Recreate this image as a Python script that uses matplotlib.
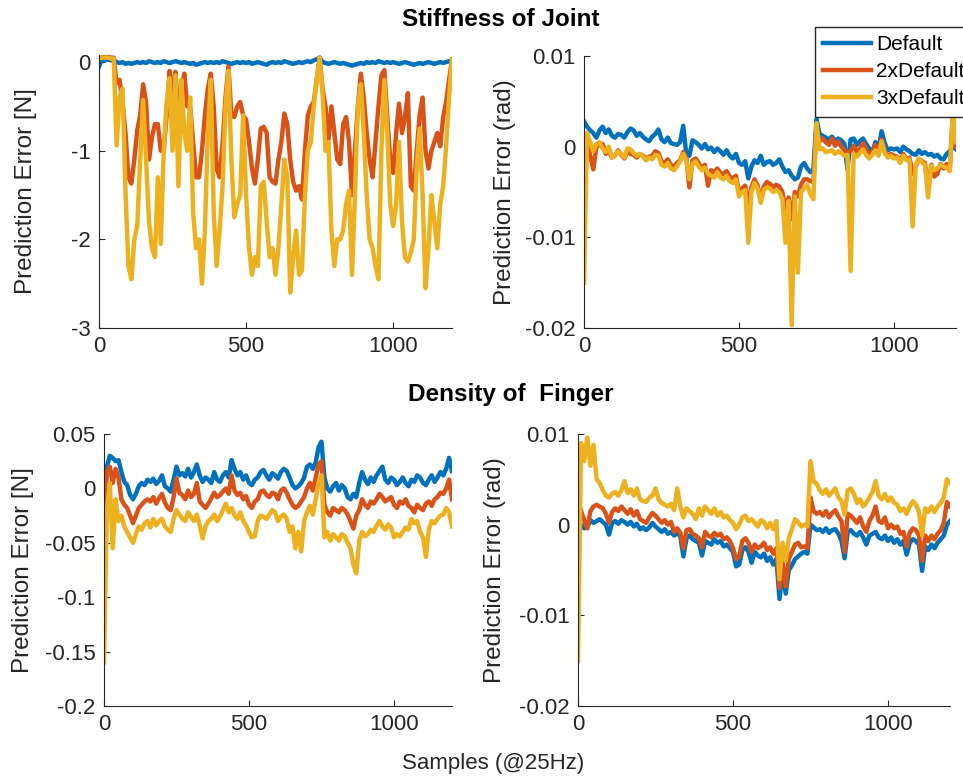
import numpy as np
import matplotlib
matplotlib.use('Agg')
import matplotlib.pyplot as plt

plt.rcParams['font.family'] = ['Liberation Sans', 'DejaVu Sans']
plt.rcParams['axes.unicode_minus'] = False

# sample index (every 10 samples)
samples = np.arange(0, 1201, 10)
series_names = ['Default', '2xDefault', '3xDefault']
colors = ['#0072BD', '#D95319', '#EDB120']

# ---- Stiffness of Joint, force error [N]
stiff_force_default = [
    -0.05, 0.03, 0.02, 0.03, 0.02, 0.02, 0.0, -0.01, 0.0, -0.02,
    -0.01, -0.02, -0.01, 0.0, -0.01, 0.0, -0.01, 0.01, 0.0, -0.01,
    0.0, -0.01, 0.01, 0.0, -0.01, 0.0, 0.01, 0.0, -0.01, 0.0,
    -0.01, -0.02, -0.01, -0.03, -0.02, -0.01, 0.0, -0.01, 0.0, -0.01,
    0.0, -0.01, 0.01, 0.0, -0.01, -0.02, -0.01, 0.0, -0.01, 0.0,
    -0.01, 0.0, -0.02, -0.01, 0.0, -0.01, -0.02, -0.03, -0.01, 0.0,
    -0.01, 0.0, -0.01, 0.01, 0.0, -0.01, -0.02, -0.01, 0.0, -0.01,
    0.0, 0.01, 0.0, 0.02, 0.03, 0.05, 0.0, -0.01, -0.02, -0.01,
    0.0, -0.01, -0.02, -0.01, -0.02, -0.03, -0.04, -0.03, -0.02, -0.01,
    -0.02, 0.0, -0.01, 0.0, -0.01, 0.01, 0.0, -0.01, 0.0, -0.01,
    0.0, -0.01, -0.02, -0.01, 0.0, -0.01, -0.02, -0.03, -0.02, -0.01,
    -0.02, -0.01, 0.0, -0.01, -0.02, -0.01, 0.0, -0.01, 0.0, 0.01,
    0.01]
stiff_force_2x = [
    0.05, 0.05, 0.06, 0.06, 0.05, 0.05, -0.24, -0.2, -0.45, -0.8,
    -1.3, -1.37, -1.1, -0.77, -0.6, -0.25, -0.45, -1.1, -0.85, -0.7,
    -0.7, -1.0, -1.0, -0.6, -0.1, -0.35, -0.11, -0.6, -0.3, -0.13,
    -0.5, -0.5, -0.9, -1.3, -1.3, -1.0, -0.6, -0.3, -0.13, -0.5,
    -1.2, -1.3, -0.92, -0.4, -0.05, -0.6, -0.62, -0.5, -0.45, -0.6,
    -0.65, -0.9, -1.2, -1.37, -1.1, -0.75, -0.73, -0.8, -1.3, -1.35,
    -1.37, -1.1, -0.9, -0.58, -0.7, -1.1, -1.35, -1.45, -1.4, -1.55,
    -1.0, -0.6, -0.5, -0.45, -0.2, 0.05, -0.3, -0.5, -0.88, -0.5,
    -0.8, -1.1, -1.15, -0.7, -0.62, -0.9, -1.5, -1.0, -0.5, -0.13,
    -0.4, -0.8, -1.1, -1.3, -0.9, -0.5, -0.15, -0.09, -0.62, -1.1,
    -1.25, -0.8, -0.47, -0.8, -0.62, -0.35, -1.4, -1.45, -1.0, -0.6,
    -0.4, -1.0, -1.2, -1.0, -0.9, -0.8, -0.95, -0.62, -0.45, -0.2,
    0.03]
stiff_force_3x = [
    0.04, 0.05, 0.05, 0.05, 0.04, 0.04, -0.94, -0.39, -0.3, -1.45,
    -2.3, -2.45, -2.0, -1.85, -1.1, -0.43, -1.1, -1.8, -2.1, -2.2,
    -1.3, -2.05, -1.0, -0.45, -0.18, -1.0, -0.15, -1.4, -0.2, -0.8,
    -1.0, -0.4, -1.7, -2.1, -2.0, -2.5, -1.9, -0.8, -0.2, -1.7,
    -2.3, -1.9, -1.4, -0.5, -0.1, -1.1, -1.75, -1.6, -1.5, -0.6,
    -1.5, -2.1, -2.4, -2.2, -2.3, -1.4, -1.35, -1.8, -2.2, -2.1,
    -2.4, -2.1, -1.6, -1.1, -1.3, -2.6, -2.2, -1.9, -2.4, -2.35,
    -1.5, -1.0, -0.9, -0.5, -0.2, 0.05, -0.35, -1.0, -0.9, -1.9,
    -2.3, -2.0, -2.0, -1.9, -1.6, -1.45, -2.4, -1.5, -0.5, -0.25,
    -0.8, -1.5, -2.0, -2.1, -2.3, -2.45, -1.0, -0.2, -0.8, -1.6,
    -1.85, -1.6, -0.9, -1.8, -2.2, -2.25, -2.15, -2.0, -1.2, -0.75,
    -1.5, -2.55, -2.1, -1.5, -1.8, -2.1, -1.6, -1.4, -0.95, -0.4,
    0.03]

# ---- Stiffness of Joint, angle error (x 1e-3 rad)
stiff_angle_default = [
    2.8, 2.2, 1.8, 1.5, 1.0, 1.8, 2.2, 1.5, 1.9, 1.2,
    1.0, 1.4, 1.3, 1.0, 1.6, 2.0, 1.8, 1.2, 1.5, 1.1,
    0.8, 0.6, 1.1, 1.4, 1.9, 0.8, 0.5, 1.0, 0.4, 0.3,
    0.2, 0.5, 2.3, -0.8, -1.0, 0.7, 0.5, 0.2, -0.2, 0.3,
    -0.3, -0.1, -0.6, -0.2, -0.5, -0.9, -0.4, -1.0, -1.3, -0.8,
    -1.8, -2.0, -1.6, -3.5, -2.2, -1.5, -1.8, -1.0, -2.0, -1.7,
    -1.6, -2.0, -1.8, -1.4, -2.2, -2.8, -2.6, -3.2, -3.6, -3.4,
    -2.2, -1.8, -2.4, -2.8, -2.5, 3.0, 1.4, 1.2, 1.0, 0.8,
    1.1, 0.6, 0.9, 0.7, 0.3, -2.5, 0.8, 0.9, 0.2, 0.6,
    0.9, 0.3, -0.2, -0.6, 0.5, -0.3, 1.7, 0.4, -0.4, -0.2,
    -0.3, -0.2, -0.6, 0.0, -0.3, -0.5, -0.8, -0.9, -0.4, -0.8,
    -0.6, -0.9, -0.8, -1.1, -0.9, -1.3, -1.4, -0.8, -0.5, 0.0,
    -0.3]
stiff_angle_2x = [
    1.5, 1.2, -1.0, -2.5, 0.0, 0.2, 0.3, -0.8, -0.5, -1.2,
    -1.0, -0.4, -0.9, -1.3, -0.6, -0.8, -0.9, -1.2, -0.8, -1.0,
    -1.3, -1.1, -1.0, -0.5, -0.7, -1.6, -1.8, -1.4, -2.0, -2.2,
    -1.8, -1.5, -0.6, -1.2, -4.5, -1.5, -1.3, -1.8, -2.4, -2.0,
    -4.3, -2.6, -2.8, -2.4, -2.9, -3.0, -2.7, -3.3, -3.5, -3.2,
    -5.0, -4.6, -4.3, -6.5, -4.5, -3.6, -4.3, -5.8, -4.4, -3.9,
    -4.1, -4.5, -4.2, -4.4, -5.0, -7.0, -5.6, -8.0, -5.0, -5.5,
    -4.2, -3.6, -3.6, -3.8, -3.9, 2.0, 0.6, 0.9, 0.5, 0.2,
    0.9, 0.1, 0.6, 0.0, -0.4, -0.6, -0.5, 0.1, -0.6, -0.2,
    0.4, -0.3, -0.9, -0.6, 0.2, -0.7, 0.8, -0.4, -1.1, -0.8,
    -1.0, -1.1, -1.6, -0.8, -1.4, -1.2, -3.0, -2.2, -1.4, -1.6,
    -1.8, -5.0, -2.0, -3.3, -3.0, -1.9, -2.4, -1.9, -2.5, 3.8,
    0.0]
stiff_angle_3x = [
    -15.0, 1.5, 0.5, -0.5, 0.3, 0.5, -0.2, -0.6, 0.0, -1.2,
    -1.0, -0.5, -0.8, -1.2, -0.2, -0.3, -0.7, -1.0, -0.8, -1.1,
    -1.5, -1.2, -1.4, -0.9, -1.0, -2.0, -2.2, -1.8, -2.4, -2.6,
    -2.2, -1.6, -0.8, -1.5, -3.6, -1.9, -1.6, -2.2, -2.6, -2.3,
    -3.0, -3.2, -3.4, -2.8, -3.4, -3.6, -3.2, -3.8, -4.0, -3.6,
    -5.5, -5.0, -4.8, -10.6, -5.0, -4.0, -4.6, -6.2, -4.8, -4.5,
    -4.6, -5.0, -4.8, -5.0, -5.8, -10.6, -6.0, -19.7, -5.5, -13.9,
    -5.0, -4.6, -4.2, -5.2, -5.8, 2.6, -0.3, -0.2, -0.6, -0.5,
    -0.4, -0.8, -0.5, -0.7, -1.0, -0.9, -13.7, -0.8, -1.1, -0.7,
    -0.3, -0.9, -1.3, -0.9, -0.4, -1.0, 0.6, -0.7, -1.2, -1.0,
    -1.3, -1.2, -1.8, -1.0, -1.5, -1.4, -8.8, -2.0, -1.3, -1.7,
    -2.0, -5.6, -2.1, -2.6, -2.4, -2.0, -2.2, -2.3, -2.7, 4.0,
    0.5]

# ---- Density of Finger, force error (x 1e-3 N)
dens_force_default = [
    5, 20, 30, 28, 25, 26, 15, 6, 3, -6,
    -10, -5, 2, 5, 3, 8, 6, 9, 4, 7,
    12, 2, 0, -3, 8, 20, 12, 14, 11, 18,
    10, 15, 22, 12, 6, 10, 8, 5, 15, 8,
    6, 12, 15, 10, 26, 18, 12, 15, 8, 12,
    5, 3, 8, 10, 15, 17, 12, 8, 14, 12,
    9, 15, 18, 16, 10, 3, 0, 2, 5, 10,
    20, 22, 18, 24, 38, 43, 10, 0, -3, 2,
    5, -2, 3, 0, -8, -10, -5, -8, 5, 15,
    8, 4, 10, 6, 12, 16, 20, 8, 5, 10,
    8, 3, 6, 10, 5, 2, 8, 6, 12, 10,
    5, 3, 8, 12, 6, 10, 15, 12, 18, 28,
    16]
dens_force_2x = [
    -35, 15, 20, 5, 18, 10, -10, -15, -18, -25,
    -32, -25, -18, -15, -12, -10, -12, -8, -14, -9,
    -5, -13, -18, -20, -8, 9, -4, -6, -10, -2,
    -8, -5, 5, -12, -15, -18, -14, -9, -4, -8,
    -6, -3, 0, -5, 12, -2, -6, -4, -10, -7,
    -15, -18, -12, -10, -3, -2, -6, -8, -4, -5,
    -10, -2, 0, -4, -10, -15, -18, -16, -12, -8,
    0, 5, -2, 10, 22, 25, -15, -22, -25, -18,
    -20, -22, -18, -20, -24, -30, -37, -25, -20, -10,
    -15, -18, -12, -14, -10, -5, -8, -12, -10, -8,
    -15, -18, -12, -14, -10, -16, -18, -22, -15, -18,
    -20, -14, -12, -16, -10, -8, -4, -5, 0, 8,
    -10]
dens_force_3x = [
    -160, -20, 5, -55, -10, -30, -25, -35, -40, -45,
    -50, -42, -35, -38, -32, -30, -36, -28, -34, -30,
    -28, -35, -38, -40, -28, -20, -24, -28, -30, -22,
    -26, -30, -24, -34, -46, -35, -30, -28, -24, -30,
    -26, -20, -14, -22, -18, -25, -28, -22, -30, -34,
    -40, -45, -44, -30, -25, -26, -28, -24, -20, -22,
    -30, -26, -24, -28, -40, -35, -55, -40, -58, -30,
    -22, -16, -24, -10, 5, 12, -45, -40, -48, -42,
    -45, -48, -42, -44, -50, -55, -70, -78, -48, -40,
    -44, -42, -38, -40, -34, -30, -35, -38, -33, -36,
    -45, -42, -44, -40, -36, -38, -28, -32, -30, -40,
    -45, -63, -38, -30, -32, -28, -25, -24, -18, -22,
    -35]

# ---- Density of Finger, angle error (x 1e-3 rad)
dens_angle_default = [
    0.5, 0.0, -0.4, -0.3, 0.5, 0.2, 0.4, 0.6, 0.3, 0.0,
    -1.1, 0.2, 0.4, 0.1, 0.5, 0.3, 0.0, 0.3, -0.2, 0.1,
    -0.5, -0.3, -0.6, -0.3, 0.2, -0.2, -0.5, -0.8, -0.5, -1.0,
    -0.8, -1.2, -0.9, -1.3, -3.5, -1.5, -1.2, -1.6, -1.8, -2.0,
    -3.4, -1.8, -2.0, -2.2, -1.6, -2.0, -1.8, -2.4, -2.2, -2.6,
    -3.0, -4.6, -4.4, -2.8, -2.5, -3.0, -4.2, -3.0, -3.4, -3.6,
    -3.2, -4.0, -3.6, -4.4, -3.8, -8.2, -5.0, -7.6, -5.0, -4.5,
    -3.8, -3.5, -3.2, -3.0, -3.2, 0.0, -0.3, -0.6, -0.5, -0.8,
    -0.4, -0.9, -0.6, -0.5, -1.0, -1.8, -3.7, -0.8, -0.6, -1.0,
    -1.2, -0.8, -1.4, -2.2, -1.2, -1.0, -0.8, -1.4, -1.6, -1.2,
    -1.8, -1.4, -2.0, -1.6, -2.2, -1.8, -3.3, -2.0, -1.6, -1.8,
    -2.2, -5.1, -2.4, -2.8, -2.2, -2.6, -2.0, -1.6, -1.2, 0.0,
    0.4]
dens_angle_2x = [
    2.5, 1.5, 0.5, -0.4, 1.5, 2.0, 2.2, 2.0, 1.8, 1.2,
    0.2, 1.4, 1.8, 1.5, 2.0, 1.6, 1.2, 1.7, 1.0, 1.5,
    0.6, 0.4, 0.2, 0.8, 1.3, 1.0, 0.6, 0.2, 0.5, 0.0,
    0.3, -0.8, -0.4, -0.9, -2.6, -0.6, -0.5, -1.0, -1.2, -1.5,
    -2.5, -0.8, -1.2, -1.4, -0.9, -1.2, -1.0, -1.6, -1.4, -1.8,
    -2.6, -3.8, -3.5, -1.8, -1.5, -2.0, -3.0, -2.2, -2.6, -2.4,
    -2.0, -2.8, -2.5, -3.2, -2.6, -7.0, -4.0, -6.8, -3.8, -3.0,
    -2.2, -2.0, -2.5, -2.4, -2.6, 3.0, 1.5, 1.2, 1.4, 1.0,
    1.5, 0.8, 1.3, 1.6, 0.9, 0.4, -3.0, 1.2, 1.0, 0.6,
    0.2, 0.8, -0.2, -0.8, 0.4, 1.0, 2.0, 0.4, 0.2, 0.8,
    -0.4, 0.0, -0.4, -0.2, -1.0, -0.8, -2.4, -0.9, -0.4, -0.6,
    -1.2, -4.0, -1.2, -1.8, -1.2, -1.6, -1.0, -0.6, 0.2, 2.5,
    2.0]
dens_angle_3x = [
    -15.0, 9.0, 7.0, 9.6, 6.5, 8.8, 5.0, 4.6, 3.8, 3.2,
    3.0, 3.4, 3.6, 3.2, 3.8, 4.8, 3.5, 3.9, 3.2, 4.0,
    2.8, 2.6, 2.5, 3.0, 3.2, 4.0, 2.8, 2.4, 2.2, 2.0,
    2.3, 1.6, 4.0, 2.0, 0.8, 1.8, 1.5, 1.2, 0.6, 1.8,
    1.0, 2.0, 1.6, 1.2, 1.8, 1.0, 1.4, 0.8, 1.0, 0.5,
    0.2, -0.5, 0.0, 0.8, 1.0, 0.4, 0.6, 0.2, -0.2, 0.5,
    0.3, -0.4, 0.2, -0.5, 0.4, -6.0, -2.0, -4.0, -1.5, -0.5,
    0.6, 0.3, -0.2, 0.0, -0.2, 7.0, 4.8, 4.5, 3.8, 3.4,
    3.9, 3.2, 3.6, 4.0, 3.0, 2.6, 1.1, 3.8, 4.0, 3.4,
    2.4, 2.8, 2.0, 2.4, 3.0, 3.6, 4.8, 3.2, 2.8, 3.4,
    2.6, 3.0, 2.4, 2.2, 1.5, 1.8, 1.2, 2.0, 2.6, 2.2,
    1.4, -1.2, 1.8, 1.4, 2.0, 1.4, 2.0, 2.4, 3.0, 5.0,
    4.6]

fig = plt.figure(figsize=(9.63, 7.82), dpi=100)

# rect (pixel box of each axes), data, scale, ylim, yticks, labels, ylabel, ylabel x
panels = [
    ((99, 55, 452, 328), [stiff_force_default, stiff_force_2x, stiff_force_3x], 1.0,
     (-3, 0.08), [-3, -2, -1, 0], ['-3', '-2', '-1', '0'], 'Prediction Error [N]', -0.176),
    ((584, 56, 956, 328), [stiff_angle_default, stiff_angle_2x, stiff_angle_3x], 1e-3,
     (-0.02, 0.01), [-0.02, -0.01, 0, 0.01], ['-0.02', '-0.01', '0', '0.01'], 'Prediction Error (rad)', -0.182),
    ((104, 434, 452, 706), [dens_force_default, dens_force_2x, dens_force_3x], 1e-3,
     (-0.2, 0.05), [-0.2, -0.15, -0.1, -0.05, 0, 0.05], ['-0.2', '-0.15', '-0.1', '-0.05', '0', '0.05'],
     'Prediction Error [N]', -0.201),
    ((578, 434, 950, 706), [dens_angle_default, dens_angle_2x, dens_angle_3x], 1e-3,
     (-0.02, 0.01), [-0.02, -0.01, 0, 0.01], ['-0.02', '-0.01', '0', '0.01'], 'Prediction Error (rad)', -0.194),
]

W, H = 963.0, 782.0
handles = []
for (x0, y0, x1, y1), data, scale, ylim, yticks, ylabels, ylabel, lx in panels:
    ax = fig.add_axes([x0 / W, 1 - y1 / H, (x1 - x0) / W, (y1 - y0) / H])
    lines = []
    for vals, c, name in zip(data, colors, series_names):
        ln, = ax.plot(samples, np.array(vals) * scale, color=c, lw=3.2, label=name,
                      solid_joinstyle='round')
        lines.append(ln)
    handles = handles or lines
    ax.set_xlim(0, 1200)
    ax.set_ylim(*ylim)
    ax.set_xticks([0, 500, 1000])
    ax.set_xticklabels(['0', '500', '1000'])
    ax.set_yticks(yticks)
    ax.set_yticklabels(ylabels)
    ax.tick_params(direction='in', length=4, width=0.8, colors='#262626',
                   labelsize=16, labelcolor='#262626', pad=6)
    for side in ['top', 'right']:
        ax.spines[side].set_visible(False)
    for side in ['left', 'bottom']:
        ax.spines[side].set_color('#262626')
        ax.spines[side].set_linewidth(0.8)
    ax.set_ylabel(ylabel, fontsize=17.5, color='#262626')
    ax.yaxis.set_label_coords(lx, 0.5)

fig.text(500.5 / W, 1 - 20 / H, 'Stiffness of Joint', ha='center', va='center',
         fontsize=17.5, fontweight='bold')
fig.text(511 / W, 1 - 395 / H, 'Density of  Finger', ha='center', va='center',
         fontsize=17.5, fontweight='bold')
fig.text(493 / W, 1 - 763 / H, 'Samples (@25Hz)', ha='center', va='center',
         fontsize=16, color='#262626')

fig.legend(handles, series_names, loc='upper left', bbox_to_anchor=(815 / W, 1 - 27 / H),
           fontsize=15, frameon=True, fancybox=False, framealpha=1, edgecolor='#262626',
           handlelength=2.3, handletextpad=0.25, borderaxespad=0, borderpad=0.4,
           labelspacing=0.38)

fig.savefig('out.png', dpi=100)
